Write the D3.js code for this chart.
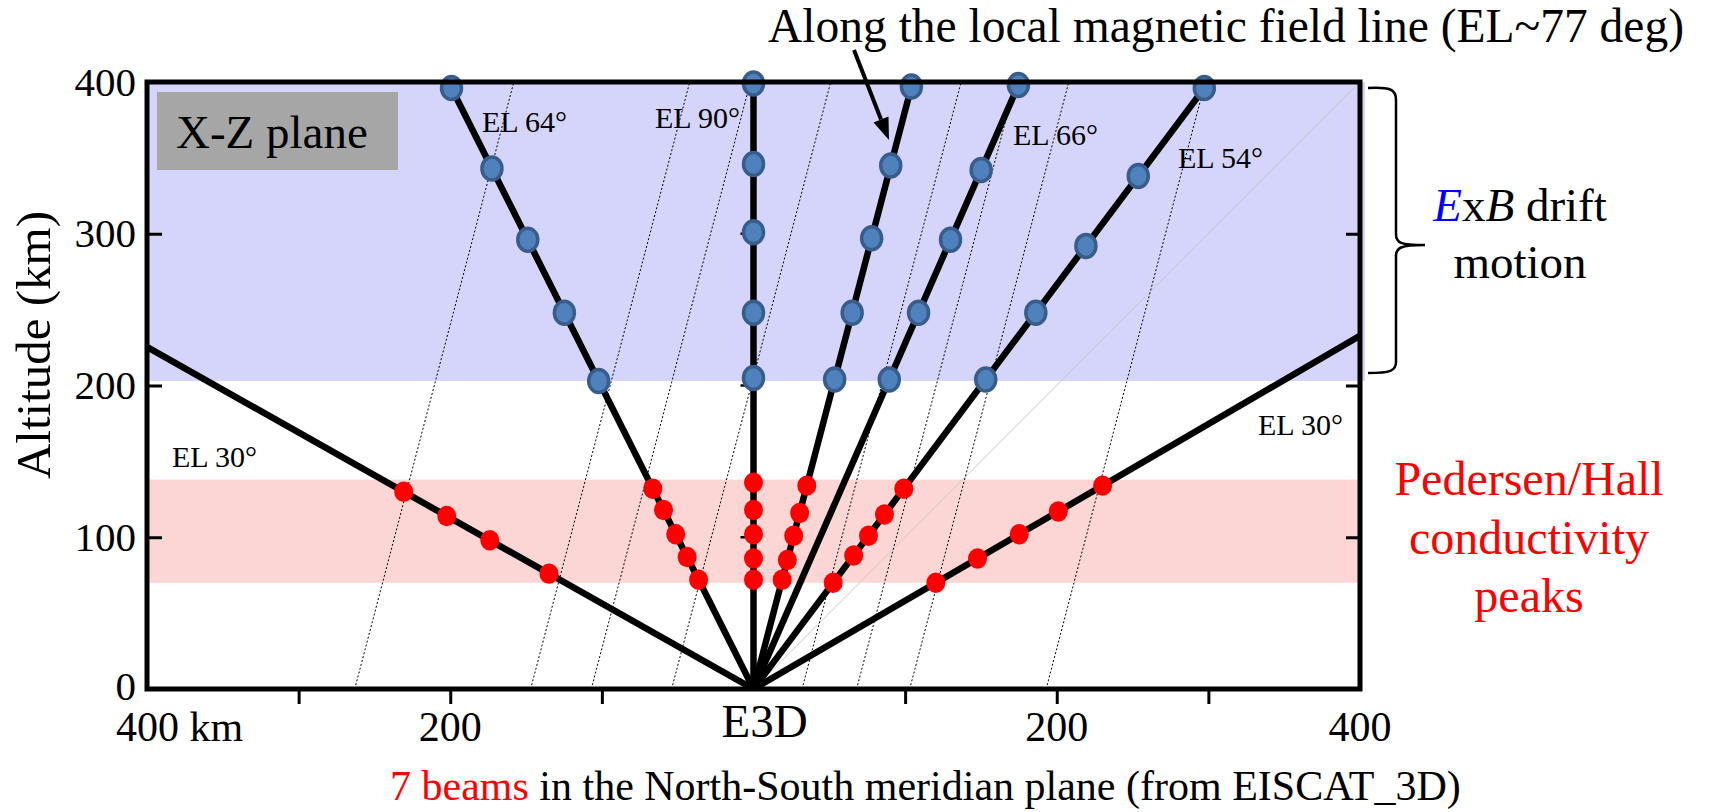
<!DOCTYPE html>
<html>
<head>
<meta charset="utf-8">
<script src="https://cdn.jsdelivr.net/npm/d3@7"></script>
<style>
  body { margin: 0; background: #fff; }
  svg { display: block; }
  text { font-family: "Liberation Serif", "Times New Roman", serif; fill: #000; }
</style>
</head>
<body>
<div id="chart"></div>
<script>

// ---- data ----
const beamNames  = ["30L", "64L", "90", "77", "66", "54", "30R"];
const beamAngles = [150.6, 116.7, 90, 75.3, 66.3, 53.1, 30.2];   // drawn direction, deg from +x
const beamLabels = ["EL 30°", "EL 64°", "EL 90°", "", "EL 66°", "EL 54°", "EL 30°"];

// altitudes (km) of the sample points on each beam
const blueDotAlt = [
    [],
    [396, 343, 296, 248, 203],
    [399, 346, 301, 248, 205],
    [397, 345, 297, 248, 204],
    [398, 342, 296, 248, 204],
    [396, 338, 292, 248, 204],
    []
];
const redDotAlt = [
    [130, 114, 98, 76],
    [132, 118, 102, 87, 72],
    [136, 118, 102, 86, 72],
    [134, 116, 101, 85, 72],
    [],
    [132, 115, 101, 88, 70],
    [134, 117, 102, 86, 70]
];

// magnetic field lines: ground crossing (km), all parallel to the EL~77 beam
const fieldLineBase = [-263, -147, -107, -54, 32, 68, 103, 193];
const fieldAngle = 75.3;

const blueBand = [203, 400];     // ExB drift region
const pinkBand = [70, 138];      // conductivity peaks

const yTicks = [0, 100, 200, 300, 400];
const yInnerTicks = [100, 200, 300];
const xMinorTicks = [-300, -200, -100, 100, 200, 300];
const xLabelVals = [-400, -200, 0, 200, 400];
const xLabelText = ["400 km", "200", "E3D", "200", "400"];

// ---- layout ----
const W = 1712, H = 812;
const plot = {left: 147, right: 1360, top: 82, bottom: 689};

const svg = d3.select("#chart").append("svg")
    .attr("width", W)
    .attr("height", H);

const x = d3.scaleLinear().domain([-400, 400]).range([plot.left, plot.right]);
const y = d3.scaleLinear().domain([0, 400]).range([plot.bottom, plot.top]);

const rad = a => a * Math.PI / 180;

svg.append("defs").append("clipPath")
    .attr("id", "plotClip")
    .append("rect")
    .attr("x", plot.left).attr("y", plot.top)
    .attr("width", plot.right - plot.left)
    .attr("height", plot.bottom - plot.top);

// bands
svg.append("rect")
    .attr("x", x(-400)).attr("y", y(blueBand[1]))
    .attr("width", x(400) - x(-400) + 5)
    .attr("height", y(blueBand[0]) - y(blueBand[1]))
    .attr("fill", "#d5d5fb");

svg.append("rect")
    .attr("x", x(-400)).attr("y", y(pinkBand[1]))
    .attr("width", x(400) - x(-400))
    .attr("height", y(pinkBand[0]) - y(pinkBand[1]))
    .attr("fill", "#fcd5d5");

// grey box label
svg.append("rect")
    .attr("x", 157).attr("y", 92)
    .attr("width", 241).attr("height", 78)
    .attr("fill", "#a6a6a6");
svg.append("text")
    .attr("x", 176).attr("y", 148)
    .attr("font-size", "47px")
    .text("X-Z plane");

const inner = svg.append("g").attr("clip-path", "url(#plotClip)");

// faint 45 deg guide
inner.append("line")
    .attr("x1", x(0)).attr("y1", y(0))
    .attr("x2", x(400)).attr("y2", y(400))
    .attr("stroke", "#c8c8c8")
    .attr("stroke-width", 1);

// field lines
const fdx = 1 / Math.tan(rad(fieldAngle));
inner.selectAll(".field")
    .data(fieldLineBase)
    .enter().append("line")
    .attr("class", "field")
    .attr("x1", d => x(d)).attr("y1", y(0))
    .attr("x2", d => x(d + 400 * fdx)).attr("y2", y(400))
    .attr("stroke", "#000")
    .attr("stroke-width", 1)
    .attr("stroke-dasharray", "2,2");

// beams
const beams = beamNames.map((n, i) => ({name: n, a: beamAngles[i], label: beamLabels[i],
    blue: blueDotAlt[i], red: redDotAlt[i]}));

inner.selectAll(".beam")
    .data(beams)
    .enter().append("line")
    .attr("class", "beam")
    .attr("x1", x(0)).attr("y1", y(0))
    .attr("x2", d => x(1000 * Math.cos(rad(d.a))))
    .attr("y2", d => y(1000 * Math.sin(rad(d.a))))
    .attr("stroke", "#000")
    .attr("stroke-width", 6.5);

// small ticks of the vertical beam
svg.selectAll(".ctick")
    .data(yInnerTicks)
    .enter().append("line")
    .attr("x1", x(0) - 13).attr("x2", x(0))
    .attr("y1", d => y(d)).attr("y2", d => y(d))
    .attr("stroke", "#000").attr("stroke-width", 2.5);

const dotX = (a, h) => Math.abs(a - 90) < 1e-6 ? 0 : h / Math.tan(rad(a));

const blueDots = beams.flatMap(b => b.blue.map(h => ({a: b.a, h: h})));
const redDots = beams.flatMap(b => b.red.map(h => ({a: b.a, h: h})));

svg.selectAll(".blue-dot")
    .data(blueDots)
    .enter().append("ellipse")
    .attr("class", "blue-dot")
    .attr("cx", d => x(dotX(d.a, d.h)))
    .attr("cy", d => y(d.h))
    .attr("rx", 10).attr("ry", 11.5)
    .attr("fill", "#4f81bd")
    .attr("stroke", "#385d8a")
    .attr("stroke-width", 3.5);

svg.selectAll(".red-dot")
    .data(redDots)
    .enter().append("ellipse")
    .attr("class", "red-dot")
    .attr("cx", d => x(dotX(d.a, d.h)))
    .attr("cy", d => y(d.h))
    .attr("rx", 9.5).attr("ry", 10.2)
    .attr("fill", "#ff0000");

// frame
svg.append("rect")
    .attr("x", plot.left).attr("y", plot.top)
    .attr("width", plot.right - plot.left)
    .attr("height", plot.bottom - plot.top)
    .attr("fill", "none")
    .attr("stroke", "#000")
    .attr("stroke-width", 5);

// axes
const yAxis = d3.axisLeft(y).tickValues(yTicks).tickSizeInner(-15).tickSizeOuter(0).tickPadding(11);
const gy = svg.append("g").attr("transform", `translate(${plot.left},0)`).call(yAxis);
gy.select(".domain").remove();
gy.selectAll("line").attr("stroke-width", 3).filter(d => d === 0 || d === 400).remove();
gy.selectAll("text").attr("font-size", "41px").attr("font-family", "Liberation Serif")
    .attr("dy", d => d === 0 ? "0.25em" : "0.32em");

const yAxisR = d3.axisRight(y).tickValues(yInnerTicks).tickSizeInner(-14).tickSizeOuter(0).tickFormat("");
const gyr = svg.append("g").attr("transform", `translate(${plot.right},0)`).call(yAxisR);
gyr.select(".domain").remove();
gyr.selectAll("line").attr("stroke-width", 3);

const xAxis = d3.axisBottom(x).tickValues(xMinorTicks).tickSizeInner(15).tickSizeOuter(0).tickFormat("");
const gx = svg.append("g").attr("transform", `translate(0,${plot.bottom})`).call(xAxis);
gx.select(".domain").remove();
gx.selectAll("line").attr("stroke-width", 3);

svg.selectAll(".xlab")
    .data(xLabelVals)
    .enter().append("text")
    .attr("class", "xlab")
    .attr("x", (d, i) => i === 0 ? x(d) - 31 : (i === 2 ? x(d) + 11 : x(d)))
    .attr("y", (d, i) => i === 2 ? 737 : 741)
    .attr("text-anchor", (d, i) => i === 0 ? "start" : "middle")
    .attr("font-size", (d, i) => i === 2 ? "47px" : "42px")
    .text((d, i) => xLabelText[i]);

svg.append("text")
    .attr("transform", "translate(50,345) rotate(-90)")
    .attr("text-anchor", "middle")
    .attr("font-size", "49px")
    .text("Altitude (km)");

// beam labels
const labelPos = [[172, 467], [482, 132], [655, 128], null, [1013, 145], [1178, 168], [1258, 435]];
svg.selectAll(".el-label")
    .data(beams.filter(b => b.label !== ""))
    .enter().append("text")
    .attr("class", "el-label")
    .attr("x", d => labelPos[beamNames.indexOf(d.name)][0])
    .attr("y", d => labelPos[beamNames.indexOf(d.name)][1])
    .attr("font-size", "30px")
    .text(d => d.label);

// top annotation + arrow
svg.append("text")
    .attr("x", 768).attr("y", 42)
    .attr("font-size", "47.5px")
    .text("Along the local magnetic field line (EL~77 deg)");

const a0 = [854, 50], a1 = [889, 140];
const ux = (a1[0] - a0[0]), uy = (a1[1] - a0[1]), ul = Math.hypot(ux, uy);
const u = [ux / ul, uy / ul], p = [-u[1], u[0]];
const hb = [a1[0] - 22 * u[0], a1[1] - 22 * u[1]];
svg.append("line")
    .attr("x1", a0[0]).attr("y1", a0[1])
    .attr("x2", hb[0]).attr("y2", hb[1])
    .attr("stroke", "#000").attr("stroke-width", 4);
svg.append("path")
    .attr("d", `M${a1[0]},${a1[1]} L${hb[0] + 8 * p[0]},${hb[1] + 8 * p[1]} L${hb[0] - 8 * p[0]},${hb[1] - 8 * p[1]} Z`)
    .attr("fill", "#000");

// brace and right-hand notes
svg.append("path")
    .attr("d", "M1368,88 C1390,87 1396,89 1396,100 L1396,234 C1396,243 1400,245 1425,245 " +
               "M1425,245 C1400,245 1396,248 1396,256 L1396,362 C1396,371 1390,373 1368,373")
    .attr("fill", "none")
    .attr("stroke", "#000")
    .attr("stroke-width", 2.5);

const exb = svg.append("text")
    .attr("x", 1520).attr("y", 221)
    .attr("text-anchor", "middle")
    .attr("font-size", "47px");
exb.append("tspan").attr("font-style", "italic").attr("fill", "#0000ff").text("E");
exb.append("tspan").text("x");
exb.append("tspan").attr("font-style", "italic").text("B");
exb.append("tspan").text(" drift");
svg.append("text")
    .attr("x", 1520).attr("y", 278)
    .attr("text-anchor", "middle")
    .attr("font-size", "47px")
    .text("motion");

["Pedersen/Hall", "conductivity", "peaks"].forEach((t, i) => {
    svg.append("text")
        .attr("x", 1529).attr("y", 495 + i * 58.5)
        .attr("text-anchor", "middle")
        .attr("font-size", "48px")
        .style("fill", "#ff0000")
        .text(t);
});

// caption
const cap = svg.append("text")
    .attr("x", 390).attr("y", 800)
    .attr("font-size", "42px");
cap.append("tspan").style("fill", "#ff0000").text("7 beams");
cap.append("tspan").text(" in the North-South meridian plane (from EISCAT_3D)");

</script>
</body>
</html>
